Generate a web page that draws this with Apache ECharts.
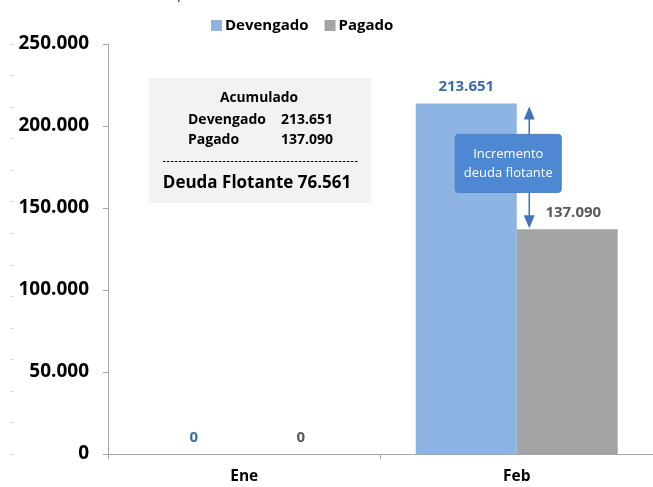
<!DOCTYPE html>
<html>
<head>
<meta charset="utf-8">
<script src="https://cdn.jsdelivr.net/npm/echarts@6/dist/echarts.min.js"></script>
<style>
html,body{margin:0;padding:0;background:#fff;}
#chart{width:653px;height:487px;}
</style>
</head>
<body>
<div id="chart"></div>
<script>
const categories = ['Ene', 'Feb'];
const devengado = [0, 213651];
const pagado = [0, 137090];
const seriesNames = ['Devengado', 'Pagado'];
const yTicks = [0, 50000, 100000, 150000, 200000, 250000];
const boxTitle = 'Acumulado';
const boxFinalLabel = 'Deuda Flotante';
const arrowNote = ['Incremento', 'deuda flotante'];
const unitTitle = 'Millones de pesos';

function fmt(v) {
  return String(Math.round(v)).replace(/\B(?=(\d{3})+(?!\d))/g, '.');
}

const FONT = '"Open Sans", sans-serif';
const lastIdx = categories.length - 1;
const accDev = devengado[lastIdx];
const accPag = pagado[lastIdx];
const deuda = accDev - accPag;

const chart = echarts.init(document.getElementById('chart'), null, {renderer: 'canvas'});

const option = {
  animation: false,
  backgroundColor: '#ffffff',
  textStyle: {fontFamily: FONT},
  legend: {
    data: seriesNames,
    left: 206,
    top: 13,
    itemWidth: 11,
    itemHeight: 11,
    itemGap: 16,
    icon: 'rect',
    textStyle: {fontFamily: FONT, fontWeight: 'bold', fontSize: 15, color: '#000', padding: [0, 0, 0, -2]}
  },
  grid: {left: 108, top: 44, width: 547, height: 410, containLabel: false},
  xAxis: {
    type: 'category',
    data: categories,
    axisLine: {lineStyle: {color: '#A6A6A6', width: 1}},
    axisTick: {show: true, length: 5, lineStyle: {color: '#A6A6A6'}},
    axisLabel: {fontFamily: FONT, fontWeight: 'bold', fontSize: 15.5, color: '#000', margin: 15}
  },
  yAxis: [{
    type: 'value',
    min: yTicks[0],
    max: yTicks[yTicks.length - 1],
    interval: yTicks[1] - yTicks[0],
    splitLine: {show: false},
    axisLine: {show: true, lineStyle: {color: '#A6A6A6', width: 1}},
    axisTick: {show: true, length: 5, lineStyle: {color: '#A6A6A6'}},
    axisLabel: {fontFamily: FONT, fontWeight: 'bold', fontSize: 19, color: '#000', margin: 19,
      formatter: v => fmt(v)}
  }, {
    type: 'value', position: 'left', offset: 94,
    min: 0, max: 13, interval: 1,
    splitLine: {show: false},
    axisLine: {show: false},
    axisTick: {show: true, length: 3, lineStyle: {color: '#D0D0D0'}},
    axisLabel: {show: false}
  }],
  series: [
    {
      name: seriesNames[0], type: 'bar', data: devengado,
      barWidth: 101, barGap: '0%',
      itemStyle: {color: '#8DB4E2'},
      label: {show: true, position: 'top', distance: 9, formatter: p => fmt(p.value),
        fontFamily: FONT, fontWeight: 'bold', fontSize: 15, color: '#3D6DA5'}
    },
    {
      name: seriesNames[1], type: 'bar', data: pagado,
      barWidth: 101,
      itemStyle: {color: '#A5A5A5'},
      label: {show: true, position: 'top', distance: 9, offset: [6, 0], formatter: p => fmt(p.value),
        fontFamily: FONT, fontWeight: 'bold', fontSize: 15, color: '#595959'}
    }
  ]
};
chart.setOption(option);

const cx = chart.convertToPixel({xAxisIndex: 0}, categories[lastIdx]);
const yTop = chart.convertToPixel({yAxisIndex: 0}, accDev);
const yBot = chart.convertToPixel({yAxisIndex: 0}, accPag);
const ax = cx + 12.5;
const arrowColor = '#3E75BA';
const midY = (yTop + yBot) / 2;

const boxX = 149, boxY = 78, boxW = 222, boxH = 125;

chart.setOption({
  graphic: [
    {type: 'text', left: 87, top: -15, style: {text: unitTitle, font: '16px ' + FONT, fill: '#404040'}},
    {type: 'rect', shape: {x: boxX, y: boxY, width: boxW, height: boxH}, style: {fill: '#F2F2F2'}, z: 10},
    {type: 'text', x: 259, y: 98, style: {text: boxTitle, font: 'bold 13.8px ' + FONT, fill: '#000', align: 'center', verticalAlign: 'middle'}, z: 11},
    {type: 'text', x: 188, y: 120, style: {text: seriesNames[0], font: 'bold 14px ' + FONT, fill: '#000', align: 'left', verticalAlign: 'middle'}, z: 11},
    {type: 'text', x: 333, y: 120, style: {text: fmt(accDev), font: 'bold 14px ' + FONT, fill: '#000', align: 'right', verticalAlign: 'middle'}, z: 11},
    {type: 'text', x: 188, y: 140, style: {text: seriesNames[1], font: 'bold 14px ' + FONT, fill: '#000', align: 'left', verticalAlign: 'middle'}, z: 11},
    {type: 'text', x: 333, y: 140, style: {text: fmt(accPag), font: 'bold 14px ' + FONT, fill: '#000', align: 'right', verticalAlign: 'middle'}, z: 11},
    {type: 'line', shape: {x1: 163, y1: 161.5, x2: 358, y2: 161.5}, style: {stroke: '#000', lineWidth: 1, lineDash: [2.5, 1.5]}, z: 11},
    {type: 'text', x: 257, y: 183, style: {text: boxFinalLabel + ' ' + fmt(deuda), font: 'bold 17px ' + FONT, fill: '#000', align: 'center', verticalAlign: 'middle'}, z: 11},

    {type: 'line', shape: {x1: ax, y1: yTop + 10, x2: ax, y2: yBot - 10}, style: {stroke: arrowColor, lineWidth: 1.5}, z: 12},
    {type: 'polygon', shape: {points: [[ax, yTop + 3], [ax - 5.5, yTop + 16], [ax + 5.5, yTop + 16]]}, style: {fill: arrowColor}, z: 12},
    {type: 'polygon', shape: {points: [[ax, yBot - 1], [ax - 5.5, yBot - 14], [ax + 5.5, yBot - 14]]}, style: {fill: arrowColor}, z: 12},
    {type: 'rect', shape: {x: cx - 61.5, y: midY - 32, width: 106, height: 58, r: 3}, style: {fill: '#4F88D2', stroke: '#4A80C8', lineWidth: 1}, z: 13},
    {type: 'text', x: cx - 8.5, y: midY - 12, style: {text: arrowNote[0], font: '13px ' + FONT, fill: '#fff', align: 'center', verticalAlign: 'middle'}, z: 14},
    {type: 'text', x: cx - 8.5, y: midY + 7, style: {text: arrowNote[1], font: '13px ' + FONT, fill: '#fff', align: 'center', verticalAlign: 'middle'}, z: 14}
  ]
});
</script>
</body>
</html>
